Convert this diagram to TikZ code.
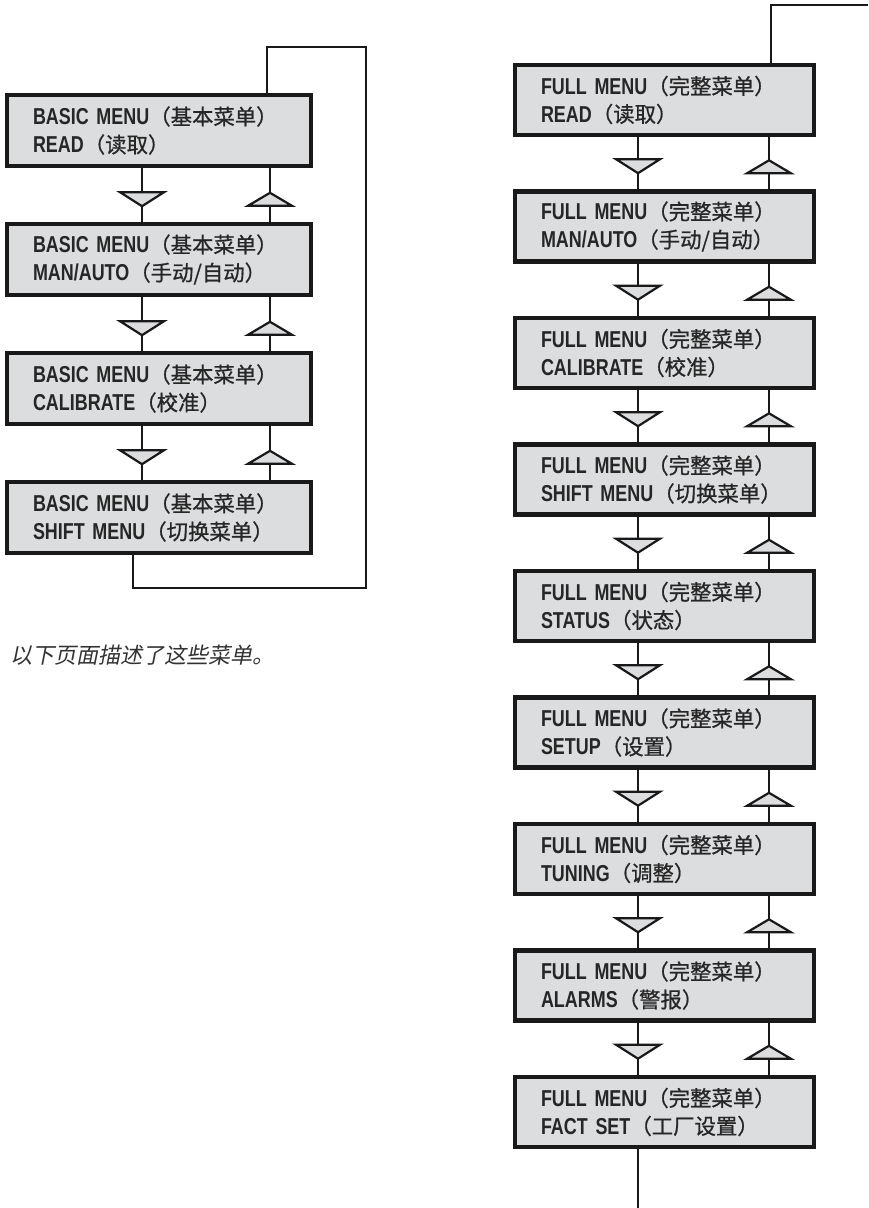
\documentclass[tikz,border=0pt]{standalone}
\usepackage{fontspec}
\setmainfont{Liberation Sans}[FakeStretch=0.78]
\newfontfamily\cjk{Noto Sans CJK SC}[Scale=0.93, FakeBold=0.8]
\newfontfamily\cjkit{Noto Sans CJK SC}[FakeSlant=0.2]
\usepackage{tikz}
\usetikzlibrary{positioning, calc}
\definecolor{mnugray}{RGB}{220,221,223}
\definecolor{notegray}{RGB}{50,50,52}
\newcommand{\zh}[1]{{\cjk\mdseries #1}}

\tikzset{
  menubox/.style={draw=black!90, line width=2.2pt, fill=mnugray, align=left,
    inner xsep=13pt, minimum height=35.5pt, text=black!85,
    font=\fontsize{11.5}{14}\selectfont\bfseries},
  basicbox/.style={menubox, text width=126pt},
  fullbox/.style={menubox, text width=123.5pt, minimum height=35pt},
  link/.style={draw=black!90, line width=1.1pt},
  tri/.style={draw=black!90, line width=1.1pt, fill=mnugray, line join=miter},
  downtri/.pic={\draw[tri] (-22,0) -- (22,0) -- (0,14) -- cycle;},
  uptri/.pic={\draw[tri] (-22,0) -- (22,0) -- (0,-13) -- cycle;}
}

\begin{document}
\begin{tikzpicture}[x=0.5pt, y=-0.5pt]
  \useasboundingbox (0,0) rectangle (868,1208);

  % basic menu column
  \node[basicbox] (b1) at (159,130.5) {BASIC MENU\zh{（基本菜单）}\\READ\zh{（读取）}};
  \node[basicbox] (b2) at (159,259.5) {BASIC MENU\zh{（基本菜单）}\\MAN/AUTO\zh{（手动/自动）}};
  \node[basicbox] (b3) at (159,388.5) {BASIC MENU\zh{（基本菜单）}\\CALIBRATE\zh{（校准）}};
  \node[basicbox] (b4) at (159,517.5) {BASIC MENU\zh{（基本菜单）}\\SHIFT MENU\zh{（切换菜单）}};

  \coordinate (bdn) at (142,0);
  \coordinate (bup) at (270,0);
  \foreach \a/\b in {b1/b2, b2/b3, b3/b4} {
    \draw[link] (\a.south -| bdn) -- (\b.north -| bdn);
    \draw[link] (\a.south -| bup) -- (\b.north -| bup);
    \pic at ($(\a.south -| bdn)+(0,24)$) {downtri};
    \pic at ($(\b.north -| bup)+(0,-16)$) {uptri};
  }

  % loop back to READ
  \coordinate (lpa) at (366,47);
  \coordinate (lpb) at (133,588);
  \coordinate (lpc) at (267,47);
  \draw[link] (b4.south -| lpb) -- (lpb) -| (lpa) -- (lpc) -- (b1.north -| lpc);

  \node[anchor=west, text=notegray, font=\fontsize{11}{13}\selectfont\cjkit]
    (note) at (3,655) {以下页面描述了这些菜单。};

  % full menu column
  \node[fullbox] (f1) at (664.5,100)   {FULL MENU\zh{（完整菜单）}\\READ\zh{（读取）}};
  \node[fullbox] (f2) at (664.5,226.5) {FULL MENU\zh{（完整菜单）}\\MAN/AUTO\zh{（手动/自动）}};
  \node[fullbox] (f3) at (664.5,353)   {FULL MENU\zh{（完整菜单）}\\CALIBRATE\zh{（校准）}};
  \node[fullbox] (f4) at (664.5,479.5) {FULL MENU\zh{（完整菜单）}\\SHIFT MENU\zh{（切换菜单）}};
  \node[fullbox] (f5) at (664.5,606)   {FULL MENU\zh{（完整菜单）}\\STATUS\zh{（状态）}};
  \node[fullbox] (f6) at (664.5,732.5) {FULL MENU\zh{（完整菜单）}\\SETUP\zh{（设置）}};
  \node[fullbox] (f7) at (664.5,859)   {FULL MENU\zh{（完整菜单）}\\TUNING\zh{（调整）}};
  \node[fullbox] (f8) at (664.5,985.5) {FULL MENU\zh{（完整菜单）}\\ALARMS\zh{（警报）}};
  \node[fullbox] (f9) at (664.5,1112)  {FULL MENU\zh{（完整菜单）}\\FACT SET\zh{（工厂设置）}};

  \coordinate (fdn) at (638,0);
  \coordinate (fup) at (769,0);
  \foreach \a/\b in {f1/f2, f2/f3, f3/f4, f4/f5, f5/f6, f6/f7, f7/f8, f8/f9} {
    \draw[link] (\a.south -| fdn) -- (\b.north -| fdn);
    \draw[link] (\a.south -| fup) -- (\b.north -| fup);
    \pic at ($(\a.south -| fdn)+(0,22)$) {downtri};
    \pic at ($(\b.north -| fup)+(0,-16)$) {uptri};
  }

  % open ends
  \coordinate (ftop) at (771,5);
  \coordinate (fedge) at (868,5);
  \coordinate (fbot) at (638,1208);
  \draw[link] (f1.north -| ftop) -- (ftop) -- (fedge);
  \draw[link] (f9.south -| fbot) -- (fbot);
\end{tikzpicture}
\end{document}
